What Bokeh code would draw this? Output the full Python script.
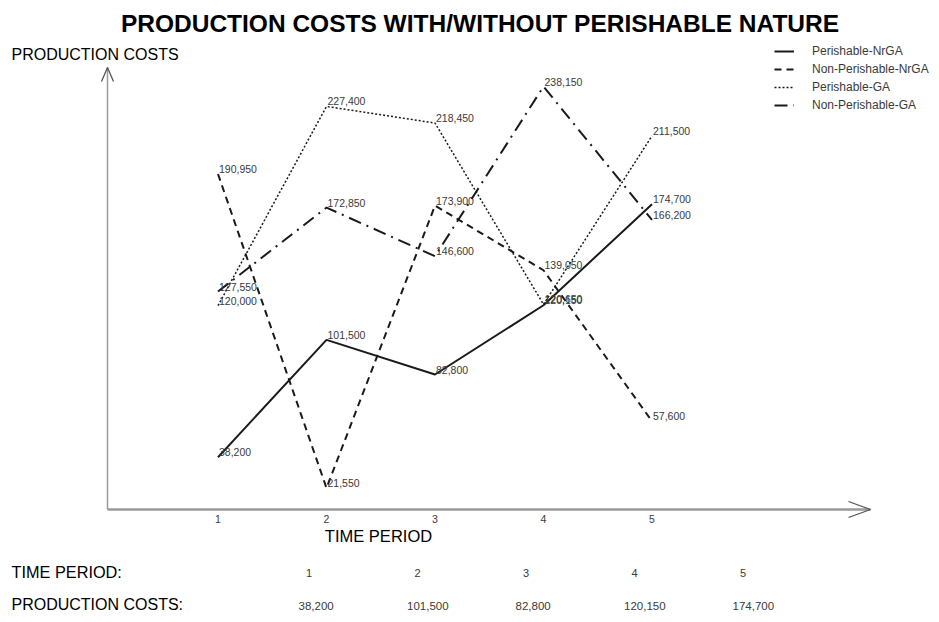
from bokeh.plotting import figure
from bokeh.models import Range1d, Legend, LegendItem
from bokeh.core.properties import value
from bokeh.embed import file_html
from bokeh.resources import INLINE

# ---------------- data ----------------
periods = [1, 2, 3, 4, 5]
tick_labels = ["1", "2", "3", "4", "5"]
perishable_nrga = [38200, 101500, 82800, 120150, 174700]
non_perishable_nrga = [190950, 21550, 173900, 139050, 57600]
perishable_ga = [120000, 227400, 218450, 120650, 211500]
non_perishable_ga = [127550, 172850, 146600, 238150, 166200]
series_names = ["Perishable-NrGA", "Non-Perishable-NrGA", "Perishable-GA", "Non-Perishable-GA"]
table_values = perishable_nrga
y_base = 10000  # value at which the horizontal axis sits

# ---------------- layout ----------------
W, H = 931, 614
PX_X1, PX_DX = 217.5, 108.5        # canvas px of period 1, px per period
PX_YBASE, PX_PER_UNIT = 509.0, 0.001854

def vx(px):  # canvas pixel -> data x
    return 1 + (px - PX_X1) / PX_DX

def vy(py):  # canvas pixel -> data y
    return y_base + (PX_YBASE - py) / PX_PER_UNIT

p = figure(width=W, height=H, output_backend="svg", toolbar_location=None,
           x_range=Range1d(vx(0), vx(W)), y_range=Range1d(vy(H), vy(0)),
           x_axis_type=None, y_axis_type=None, min_border=0)
p.grid.visible = False
p.outline_line_color = None
p.background_fill_color = "white"
p.border_fill_color = "white"

FONT = "Liberation Sans"
ink = "#1a1a1a"
label_c = "#3a3a3a"

# axes
p.line([vx(107), vx(870)], [y_base, y_base], line_color="#9a9a9a", line_width=2.5)
p.line([vx(107), vx(107)], [y_base, vy(67)], line_color="#9a9a9a", line_width=1.5)
p.line([vx(848), vx(870), vx(848)], [vy(501), vy(509), vy(517)], line_color="#555555", line_width=1.3)
p.line([vx(101), vx(107), vx(113)], [vy(81), vy(67), vy(81)], line_color="#555555", line_width=1.3)

# series
styles = [
    dict(line_dash="solid", line_width=2.0),
    dict(line_dash="7 5", line_width=2.0),
    dict(line_dash="2 2", line_width=1.5),
    dict(line_dash="13 6 2 6", line_width=2.0),
]
all_series = [perishable_nrga, non_perishable_nrga, perishable_ga, non_perishable_ga]
items = []
for name, vals, st in zip(series_names, all_series, styles):
    r = p.line(periods, vals, line_color=ink, **st)
    items.append(LegendItem(label=name, renderers=[r]))
    p.text(periods, vals, text=[f"{v:,}" for v in vals], text_font=value(FONT),
           text_font_size="10.5px", text_color=label_c, text_align="left",
           text_baseline="bottom", x_offset=1, y_offset=-1)

legend = Legend(items=items, location=(774, 500), orientation="vertical",
                label_text_font=FONT, label_text_font_size="12px", label_text_color=label_c,
                glyph_width=20, glyph_height=18, label_height=18, spacing=0,
                label_standoff=18, padding=0, margin=0,
                border_line_alpha=0, background_fill_alpha=0)
p.add_layout(legend, "center")

# tick labels on x axis
p.text(periods, [y_base] * 5, text=tick_labels, text_font=value(FONT), text_font_size="10.5px",
       text_color=label_c, text_align="center", text_baseline="top", y_offset=5)

# titles
p.text([vx(479.5)], [vy(23)], text=["PRODUCTION COSTS WITH/WITHOUT PERISHABLE NATURE"],
       text_font=value(FONT), text_font_style="bold", text_font_size="24.5px",
       text_color="black", text_align="center", text_baseline="middle")
p.text([vx(11)], [vy(54)], text=["PRODUCTION COSTS"], text_font=value(FONT),
       text_font_size="16px", text_color="black", text_align="left", text_baseline="middle")
p.text([vx(378)], [vy(535.5)], text=["TIME PERIOD"], text_font=value(FONT),
       text_font_size="16.5px", text_color="black", text_align="center", text_baseline="middle")

# table under the chart
p.text([vx(11)], [vy(571)], text=["TIME PERIOD:"], text_font=value(FONT),
       text_font_size="16.3px", text_color="black", text_align="left", text_baseline="middle")
p.text([vx(11)], [vy(604)], text=["PRODUCTION COSTS:"], text_font=value(FONT),
       text_font_size="16px", text_color="black", text_align="left", text_baseline="middle")
p.text(periods, [vy(572)] * 5, text=tick_labels, text_font=value(FONT), text_font_size="11px",
       text_color=label_c, text_align="left", text_baseline="middle", x_offset=88)
p.text(periods, [vy(605)] * 5, text=[f"{v:,}" for v in table_values], text_font=value(FONT),
       text_font_size="11.5px", text_color=label_c, text_align="left", text_baseline="middle",
       x_offset=80.5)

open("out.html", "w").write(file_html(p, INLINE))
